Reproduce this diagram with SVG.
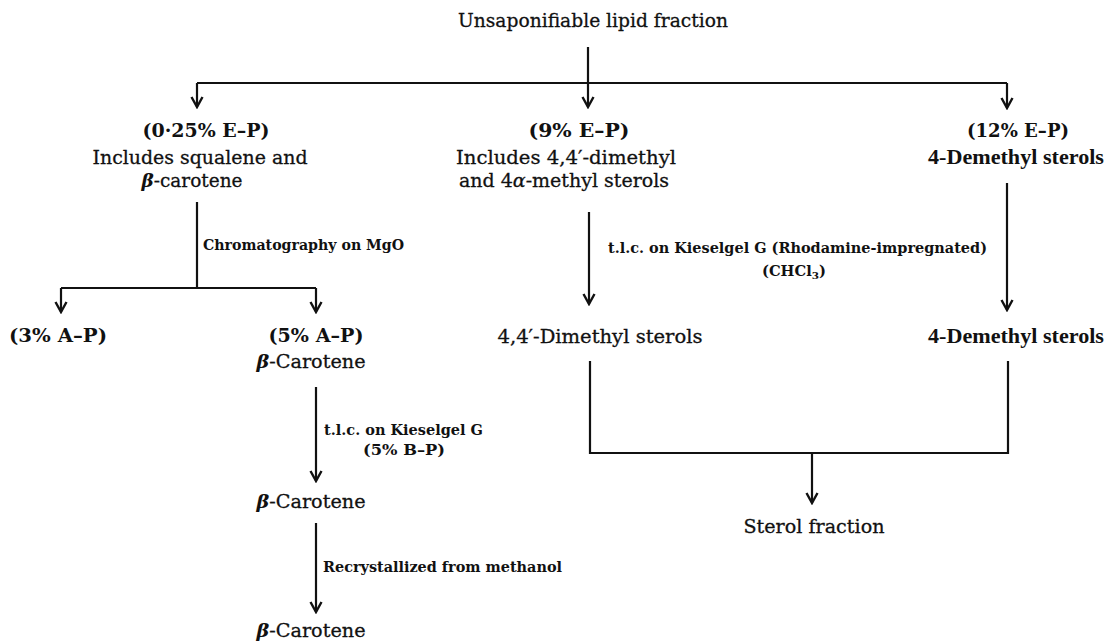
<svg xmlns="http://www.w3.org/2000/svg" width="1115" height="641" viewBox="0 0 1115 641">
<style>
text{font-family:"DejaVu Serif","Liberation Serif",serif;fill:#111;}
.m{font-size:19px;stroke:#111;stroke-width:0.3;}
.b{font-weight:bold;stroke-width:0;}
.nr{font-family:"Liberation Serif","DejaVu Serif",serif;font-size:20px;}
.l{font-size:14px;font-weight:bold;}
.ln{fill:none;stroke:#111;stroke-width:2.2;}
.ar{fill:none;stroke:#111;stroke-width:2.2;marker-end:url(#ah);}
.it{font-style:italic;}
</style>
<defs>
<marker id="ah" viewBox="-12 -7 14 14" refX="0" refY="0" markerWidth="14" markerHeight="14" orient="auto" markerUnits="userSpaceOnUse">
<path d="M-10,-5.5 L0,0 L-10,5.5" fill="none" stroke="#111" stroke-width="2.4"/>
</marker>
</defs>
<rect width="1115" height="641" fill="#fff"/>
<g id="connectors">
<path class="ln" d="M588,47 V83 M197,83 H1007"/>
<path class="ar" d="M197,83 V107"/>
<path class="ar" d="M588,83 V107"/>
<path class="ar" d="M1007,83 V108"/>
<path class="ln" d="M197,202 V288 M61,288 H316"/>
<path class="ar" d="M61,288 V312"/>
<path class="ar" d="M316,288 V312"/>
<path class="ar" d="M316,387 V481"/>
<path class="ar" d="M316,523 V612"/>
<path class="ar" d="M589,212 V304"/>
<path class="ar" d="M1007,183 V310"/>
<path class="ln" d="M590,361 V453 H1008 V361"/>
<path class="ar" d="M812,453 V503"/>
</g>
<g id="n-root"><text class="m" x="593" y="27" text-anchor="middle" textLength="270" lengthAdjust="spacingAndGlyphs">Unsaponifiable lipid fraction</text></g>
<g id="n-left">
<text class="m b" x="206" y="137" text-anchor="middle" textLength="127" lengthAdjust="spacingAndGlyphs">(0·25% E–P)</text>
<text class="m" x="200" y="164" text-anchor="middle" textLength="215" lengthAdjust="spacingAndGlyphs">Includes squalene and</text>
<text class="m" x="192" y="187" text-anchor="middle" textLength="101" lengthAdjust="spacingAndGlyphs"><tspan class="it b">β</tspan>-carotene</text>
</g>
<g id="n-mid">
<text class="m b" x="579" y="137" text-anchor="middle" textLength="101" lengthAdjust="spacingAndGlyphs">(9% E–P)</text>
<text class="m" x="566" y="164" text-anchor="middle" textLength="220" lengthAdjust="spacingAndGlyphs">Includes 4,4′-dimethyl</text>
<text class="m" x="564" y="187" text-anchor="middle" textLength="210" lengthAdjust="spacingAndGlyphs">and 4<tspan class="it">α</tspan>-methyl sterols</text>
</g>
<g id="n-right">
<text class="m b" x="1018" y="137" text-anchor="middle" textLength="102" lengthAdjust="spacingAndGlyphs">(12% E–P)</text>
<text class="m b nr" x="1016" y="164" text-anchor="middle" textLength="176" lengthAdjust="spacingAndGlyphs">4-Demethyl sterols</text>
</g>
<g id="e-chrom"><text class="l" x="203" y="250" textLength="201" lengthAdjust="spacingAndGlyphs">Chromatography on MgO</text></g>
<g id="n-3ap"><text class="m b" x="58" y="342" text-anchor="middle" textLength="98" lengthAdjust="spacingAndGlyphs">(3% A–P)</text></g>
<g id="n-5ap">
<text class="m b" x="316" y="342" text-anchor="middle" textLength="95" lengthAdjust="spacingAndGlyphs">(5% A–P)</text>
<text class="m" x="311" y="368" text-anchor="middle" textLength="109" lengthAdjust="spacingAndGlyphs"><tspan class="it b">β</tspan>-Carotene</text>
</g>
<g id="e-tlc1">
<text class="l" x="324" y="435" textLength="159" lengthAdjust="spacingAndGlyphs">t.l.c. on Kieselgel G</text>
<text class="l" x="404" y="455" text-anchor="middle" textLength="82" lengthAdjust="spacingAndGlyphs">(5% B–P)</text>
</g>
<g id="n-carot2"><text class="m" x="311" y="508" text-anchor="middle" textLength="109" lengthAdjust="spacingAndGlyphs"><tspan class="it b">β</tspan>-Carotene</text></g>
<g id="e-recryst"><text class="l" x="323" y="572" textLength="239" lengthAdjust="spacingAndGlyphs">Recrystallized from methanol</text></g>
<g id="n-carot3"><text class="m" x="311" y="637" text-anchor="middle" textLength="109" lengthAdjust="spacingAndGlyphs"><tspan class="it b">β</tspan>-Carotene</text></g>
<g id="e-tlc2">
<text class="l" x="608" y="253" textLength="379" lengthAdjust="spacingAndGlyphs">t.l.c. on Kieselgel G (Rhodamine-impregnated)</text>
<text class="l" x="794" y="276" text-anchor="middle" textLength="64" lengthAdjust="spacingAndGlyphs">(CHCl<tspan font-size="10" dy="3">3</tspan><tspan dy="-3">)</tspan></text>
</g>
<g id="n-dimethyl"><text class="m" x="600" y="343" text-anchor="middle" textLength="205" lengthAdjust="spacingAndGlyphs">4,4′-Dimethyl sterols</text></g>
<g id="n-demethyl"><text class="m b nr" x="1016" y="343" text-anchor="middle" textLength="176" lengthAdjust="spacingAndGlyphs">4-Demethyl sterols</text></g>
<g id="n-sterol"><text class="m" x="814" y="533" text-anchor="middle" textLength="141" lengthAdjust="spacingAndGlyphs">Sterol fraction</text></g>
</svg>
